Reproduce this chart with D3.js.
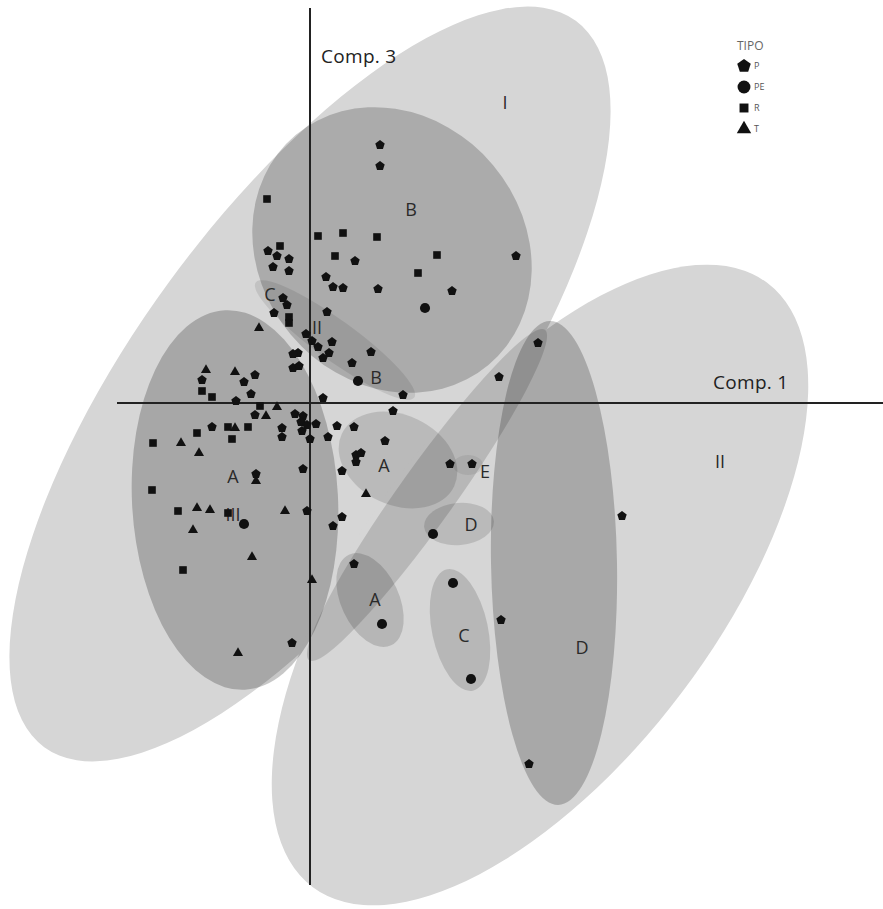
<!DOCTYPE html>
<html>
<head>
<meta charset="utf-8">
<script src="https://cdn.jsdelivr.net/npm/d3@7"></script>
<style>
  html, body { margin: 0; padding: 0; background: #ffffff; }
  svg { display: block; }
</style>
</head>
<body>
<div id="chart"></div>
<script>
// ---------------- DATA ----------------
// Axis extents (Comp.1, Comp.3) in score units
const comp1Extent = [-1.93, 5.73];
const comp3Extent = [-4.82, 3.95];

// Points [Comp.1, Comp.3] by TIPO
const puntosP = [
  [0.70, 2.58], [0.70, 2.37], [-0.42, 1.52], [-0.33, 1.47], [-0.21, 1.44], [-0.37, 1.36],
  [-0.21, 1.32], [0.45, 1.42], [0.16, 1.26], [0.23, 1.16], [0.33, 1.15], [0.68, 1.14],
  [-0.27, 1.05], [-0.23, 0.98], [-0.36, 0.90], [0.17, 0.91], [2.06, 1.47], [1.42, 1.12],
  [-0.04, 0.69], [0.02, 0.62], [0.08, 0.56], [0.22, 0.61], [0.19, 0.50], [0.13, 0.45],
  [0.61, 0.51], [0.42, 0.40], [0.93, 0.08], [0.13, 0.05], [1.89, 0.26], [2.28, 0.60],
  [-0.12, 0.50], [-0.17, 0.49], [-0.17, 0.35], [-0.11, 0.37], [-0.55, 0.28], [-1.08, 0.23],
  [-0.66, 0.21], [-0.59, 0.09], [-0.74, 0.02], [-0.55, -0.12], [-0.15, -0.11], [-0.07, -0.13],
  [-0.09, -0.19], [-0.03, -0.22], [0.06, -0.21], [-0.08, -0.28], [0.00, -0.36], [-0.98, -0.24],
  [-0.28, -0.25], [-0.28, -0.34], [0.27, -0.23], [0.44, -0.24], [0.18, -0.34], [0.83, -0.08],
  [0.75, -0.38], [0.46, -0.52], [0.51, -0.50], [0.46, -0.59], [0.32, -0.68], [-0.07, -0.66],
  [1.40, -0.61], [1.62, -0.61], [-0.03, -1.08], [0.32, -1.14], [0.23, -1.23], [0.44, -1.61],
  [-0.54, -0.71], [-0.18, -2.40], [3.12, -1.13], [2.19, -3.61], [1.91, -2.17]
];
const puntosPE = [
  [1.15, 0.95], [0.48, 0.22], [-0.66, -1.21], [1.23, -1.31], [1.43, -1.80], [0.72, -2.21], [1.61, -2.76]
];
const puntosR = [
  [-0.43, 2.04], [0.08, 1.67], [0.33, 1.70], [0.67, 1.66], [-0.30, 1.57], [0.25, 1.47],
  [1.08, 1.30], [1.27, 1.48], [-0.21, 0.86], [-0.21, 0.80], [-1.08, 0.12], [-0.98, 0.06],
  [-0.50, -0.03], [-0.82, -0.24], [-0.62, -0.24], [-1.13, -0.30], [-1.57, -0.40], [-0.78, -0.36],
  [-1.58, -0.87], [-1.32, -1.08], [-0.82, -1.10], [-1.27, -1.67]
];
const puntosT = [
  [-0.51, 0.75], [-1.04, 0.33], [-0.75, 0.31], [-0.33, -0.04], [-0.44, -0.13], [-0.75, -0.25],
  [-1.29, -0.40], [-1.11, -0.50], [-1.13, -1.05], [-1.00, -1.07], [-1.17, -1.27], [-0.25, -1.08],
  [-0.58, -1.54], [0.02, -1.77], [-0.72, -2.50], [0.56, -0.91], [-0.54, -0.78]
];

// Group ellipses: name, centre (Comp.1, Comp.3), semi-axes, rotation (deg)
const elipseNombres = ["I", "II", "III", "B", "D", "C-II", "II-A", "A", "A2", "E", "Dp", "Cp"];
const elipseCx =  [0.00, 2.30, -0.75, 0.82, 2.44, 0.25, 1.17, 0.88, 0.60, 1.58, 1.49, 1.50];
const elipseCy =  [0.19, -1.82, -0.97, 1.53, -1.60, 0.63, -0.92, -0.57, -1.97, -0.62, -1.21, -2.27];
const elipseRx =  [4.50, 3.78, 1.03, 1.50, 0.63, 0.98, 2.03, 0.62, 0.50, 0.15, 0.35, 0.28];
const elipseRy =  [1.74, 1.78, 1.90, 1.32, 2.42, 0.20, 0.28, 0.45, 0.29, 0.10, 0.21, 0.62];
const elipseAng = [-53.8, -53, -3, 50, -1, 36, -54.5, 25, 65, 0, -5, -12];

// Group labels
const etiquetas = ["I", "II", "B", "C", "II", "B", "A", "III", "A", "E", "D", "A", "C", "D"];
const etiquetaX = [1.95, 4.10, 1.01, -0.40, 0.07, 0.66, -0.77, -0.77, 0.74, 1.75, 1.61, 0.65, 1.54, 2.72];
const etiquetaY = [3.00, -0.59, 1.93, 1.08, 0.75, 0.25, -0.74, -1.12, -0.63, -0.69, -1.22, -1.97, -2.33, -2.45];

const ejeNombres = ["Comp. 3", "Comp. 1"];
const leyendaTitulo = "TIPO";
const leyendaTipos = ["P", "PE", "R", "T"];

// ---------------- CHART ----------------
const W = 883, H = 909;
const svg = d3.select("#chart").append("svg").attr("width", W).attr("height", H);

const x = d3.scaleLinear().domain([-2, 5]).range([110, 810]);
const y = d3.scaleLinear().domain([-4, 4]).range([803, 3]);
const ux = v => x(v) - x(0);
const uy = v => y(0) - y(v);

// shading style per ellipse (opaque light base, translucent darker overlays)
const estilo = {
  "I":   {fill: "#d6d6d6", op: 1},
  "II":  {fill: "#d6d6d6", op: 1},
  "III": {fill: "#000", op: 0.22},
  "B":   {fill: "#000", op: 0.2},
  "D":   {fill: "#000", op: 0.21},
  "C-II": {fill: "#000", op: 0.09},
  "II-A": {fill: "#000", op: 0.14},
  "A":   {fill: "#000", op: 0.13},
  "A2":  {fill: "#000", op: 0.15},
  "E":   {fill: "#000", op: 0.07},
  "Dp":  {fill: "#000", op: 0.13},
  "Cp":  {fill: "#000", op: 0.14}
};

const ell = elipseNombres.map((n, i) => ({n, cx: elipseCx[i], cy: elipseCy[i], rx: elipseRx[i], ry: elipseRy[i], a: elipseAng[i]}));
svg.append("g").selectAll("ellipse").data(ell).join("ellipse")
  .attr("cx", 0).attr("cy", 0)
  .attr("rx", d => ux(d.rx)).attr("ry", d => uy(d.ry))
  .attr("transform", d => `translate(${x(d.cx)},${y(d.cy)}) rotate(${d.a})`)
  .attr("fill", d => estilo[d.n].fill).attr("fill-opacity", d => estilo[d.n].op);

// Axes
const axG = svg.append("g").attr("stroke", "#222").attr("stroke-width", 2);
axG.append("line").attr("x1", x(0)).attr("x2", x(0)).attr("y1", y(comp3Extent[1])).attr("y2", y(comp3Extent[0]));
axG.append("line").attr("y1", y(0)).attr("y2", y(0)).attr("x1", x(comp1Extent[0])).attr("x2", x(comp1Extent[1]));

const fontFam = "Open Sans, sans-serif";
svg.append("text").attr("x", x(0.11)).attr("y", y(3.47)).attr("dy", "0.35em")
  .attr("font-family", fontFam).attr("font-size", 19).attr("letter-spacing", 0.3).attr("fill", "#222").text(ejeNombres[0]);
svg.append("text").attr("x", x(4.03)).attr("y", y(0.21)).attr("dy", "0.35em")
  .attr("font-family", fontFam).attr("font-size", 19).attr("letter-spacing", 0.3).attr("fill", "#222").text(ejeNombres[1]);

// Group labels
svg.append("g").selectAll("text").data(etiquetas).join("text")
  .attr("x", (d, i) => x(etiquetaX[i])).attr("y", (d, i) => y(etiquetaY[i]))
  .attr("dy", "0.35em").attr("text-anchor", "middle")
  .attr("font-family", fontFam).attr("font-size", 18).attr("fill", "#2a2a2a")
  .text(d => d);

// Symbols
const pentagon = {
  draw(ctx, size) {
    const r = Math.sqrt(size / 2.3776);
    for (let k = 0; k < 5; k++) {
      const t = -Math.PI / 2 + k * 2 * Math.PI / 5;
      const px = r * Math.cos(t), py = r * Math.sin(t);
      if (k === 0) ctx.moveTo(px, py); else ctx.lineTo(px, py);
    }
    ctx.closePath();
  }
};
const tipos = [
  {t: "P", pts: puntosP, sym: pentagon, size: 58},
  {t: "PE", pts: puntosPE, sym: d3.symbolCircle, size: 80},
  {t: "R", pts: puntosR, sym: d3.symbolSquare, size: 58},
  {t: "T", pts: puntosT, sym: d3.symbolTriangle, size: 44}
];
const gp = svg.append("g");
tipos.forEach(tp => {
  gp.append("g").selectAll("path").data(tp.pts).join("path")
    .attr("transform", d => `translate(${x(d[0])},${y(d[1])})`)
    .attr("d", d3.symbol().type(tp.sym).size(tp.size))
    .attr("fill", "#111");
});

// Legend
const lg = svg.append("g").attr("transform", "translate(737,0)");
lg.append("text").attr("x", 0).attr("y", 50).attr("font-family", fontFam)
  .attr("font-size", 12).attr("fill", "#666").text(leyendaTitulo);
const legSym = [pentagon, d3.symbolCircle, d3.symbolSquare, d3.symbolTriangle];
const legSize = [120, 130, 80, 90];
leyendaTipos.forEach((t, i) => {
  const yy = 66 + i * 21;
  lg.append("path").attr("transform", `translate(7,${yy})`)
    .attr("d", d3.symbol().type(legSym[i]).size(legSize[i])).attr("fill", "#111");
  lg.append("text").attr("x", 17).attr("y", yy).attr("dy", "0.35em")
    .attr("font-family", fontFam).attr("font-size", 9).attr("fill", "#555").text(t);
});
</script>
</body>
</html>
